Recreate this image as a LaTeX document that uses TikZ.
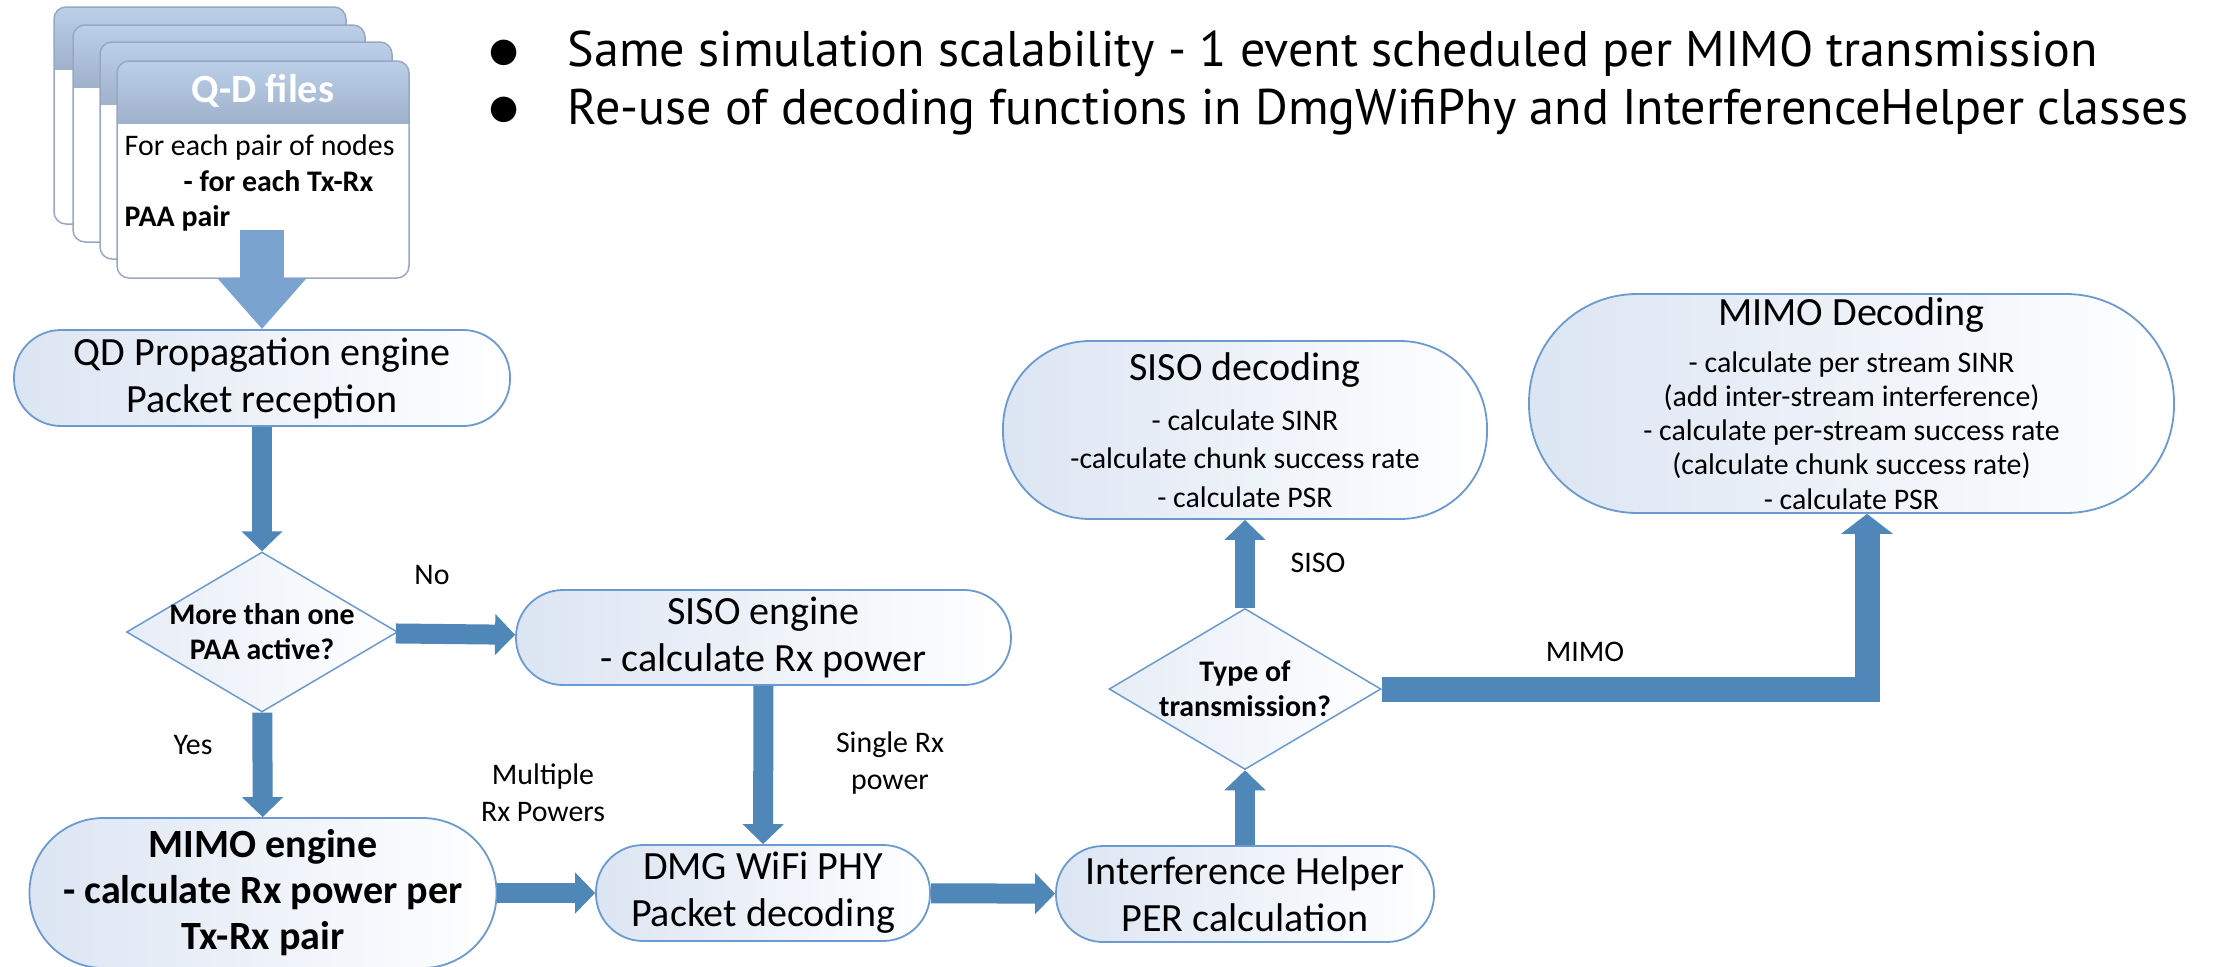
\documentclass[tikz,border=0pt]{standalone}
\usepackage{fontspec}
\setmainfont{Carlito}
\newfontfamily\notefont{PT Sans}
\newfontfamily\dotfont{DejaVu Sans}
\usetikzlibrary{arrows.meta,shapes.geometric}
\definecolor{flowblue}{HTML}{4F87B9}
\definecolor{qdblue}{HTML}{7BA3CF}
\definecolor{boxline}{HTML}{6A9AD0}
\definecolor{boxtint}{HTML}{DCE5F3}
\definecolor{cardtop}{HTML}{BCD0E8}
\definecolor{cardbot}{HTML}{9FB1CB}
\definecolor{cardline}{HTML}{98A8C2}
\begin{document}
\begin{tikzpicture}[x=0.1mm, y=-0.1mm,
	proc/.style={rectangle, rounded corners=#1, draw=boxline, line width=0.18mm, left color=boxtint, right color=white, align=center, inner sep=0pt, font=\fontsize{11.4}{13.4}\selectfont},
	proc/.default=4.7mm,
	decide/.style={diamond, draw=boxline, line width=0.15mm, left color=boxtint!70, right color=white, inner sep=0pt},
	dtext/.style={align=center, font=\bfseries\fontsize{8.5}{10}\selectfont},
	flow/.style={draw=flowblue, line width=2mm, -{Triangle[width=4mm, length=2mm]}},
	lbl/.style={align=center, font=\fontsize{8.5}{10.5}\selectfont}]
	\useasboundingbox (0,0) rectangle (2218,966);
	\fill[white] (0,0) rectangle (2218,966);

	% Q-D file stack
	\foreach \cx/\cy in {54/7, 73/25, 100/42, 117/61} {
		\begin{scope}
			\clip[rounded corners=1.2mm] (\cx,\cy) rectangle ++(292,217);
			\fill[white] (\cx,\cy) rectangle ++(292,217);
			\shade[top color=cardtop, bottom color=cardbot] (\cx,\cy) rectangle ++(292,62);
		\end{scope}
		\draw[cardline, line width=0.15mm, rounded corners=1.2mm] (\cx,\cy) rectangle ++(292,217);
	}
	\node (qdhead) at (263, 91)	[text=white, font=\bfseries\fontsize{11.4}{13}\selectfont]	{Q-D files};
	\node (qdtext) at (124, 183)	[anchor=west, align=left, inner sep=0pt, font=\fontsize{8.5}{10.2}\selectfont]	{For each pair of nodes\\\hspace*{5.9mm}\textbf{- for each Tx-Rx}\\\textbf{PAA pair}};

	\node (notes) at (489, 83)	[anchor=west, align=left, inner sep=0pt, font=\notefont\fontsize{14.25}{16.3}\selectfont]	{\makebox[7.8mm][l]{\raisebox{1.6pt}{\dotfont\fontsize{9.5}{9.5}\selectfont ●}}Same simulation scalability - 1 event scheduled per MIMO transmission\\\makebox[7.8mm][l]{\raisebox{1.6pt}{\dotfont\fontsize{9.5}{9.5}\selectfont ●}}Re-use of decoding functions in DmgWifiPhy and InterferenceHelper classes};

	\node (prop) at (262, 378)	[proc, minimum width=49.6mm, minimum height=9.6mm]	{QD Propagation engine\\Packet reception};
	\node (d1) at (262, 632)	[decide, minimum width=27.1mm, minimum height=16mm, label={[dtext]center:More than one\\PAA active?}]	{};
	\node (sisoeng) at (763.5, 637.5)	[proc, minimum width=49.5mm, minimum height=9.5mm]	{SISO engine\\- calculate Rx power};
	\node (mimoeng) at (263, 893)	[proc=7.4mm, minimum width=46.7mm, minimum height=15mm, font=\bfseries\fontsize{11.4}{13.1}\selectfont]	{MIMO engine\\- calculate Rx power per\\Tx-Rx pair};
	\node (dmg) at (763, 893)	[proc, minimum width=33.4mm, minimum height=9.6mm]	{DMG WiFi PHY\\Packet decoding};
	\node (interf) at (1245, 894)	[proc, minimum width=37.8mm, minimum height=9.6mm]	{Interference Helper\\PER calculation};
	\node (d2) at (1245, 689)	[decide, minimum width=27.2mm, minimum height=16.1mm, label={[dtext]center:Type of\\transmission?}]	{};
	\node (sisodec) at (1245, 430)	[proc=8.7mm, minimum width=48.4mm, minimum height=17.8mm, font=\fontsize{8.5}{11}\selectfont]	{{\fontsize{11.4}{13.4}\selectfont SISO decoding}\\[3.2pt]- calculate SINR\\-calculate chunk success rate\\- calculate PSR};
	\node (mimodec) at (1851.5, 403.5)	[proc=10.8mm, minimum width=64.5mm, minimum height=21.9mm, font=\fontsize{8.5}{9.7}\selectfont]	{{\fontsize{11.4}{13.4}\selectfont MIMO Decoding}\\[3.7pt]- calculate per stream SINR\\(add inter-stream interference)\\- calculate per-stream success rate\\(calculate chunk success rate)\\- calculate PSR};

	\node (lno) at (432, 575)	[lbl]	{No};
	\node (lyes) at (193, 745)	[lbl]	{Yes};
	\node (lmulti) at (543, 793)	[lbl]	{Multiple\\Rx Powers};
	\node (lsingle) at (890, 763)	[lbl]	{Single Rx\\power};
	\node (lsiso) at (1318, 563)	[lbl]	{SISO};
	\node (lmimo) at (1585, 652)	[lbl]	{MIMO};

	\coordinate (qdtail) at (262, 230);
	\draw[draw=qdblue, line width=4.4mm, -{Triangle[width=8.6mm, length=5.1mm]}] (qdtail) -- (prop);
	\draw[flow] (prop) -- (d1);
	\draw[flow] (d1) -- (sisoeng);
	\draw[flow] (d1) -- (mimoeng);
	\draw[flow] (sisoeng) -- (dmg);
	\draw[flow] (mimoeng) -- (dmg);
	\draw[flow] (dmg) -- (interf);
	\draw[flow] (interf) -- (d2);
	\draw[flow] (d2) -- (sisodec);
	\draw[flow, line width=2.5mm, -{Triangle[width=5.1mm, length=2mm]}] (d2.east) -| ([xshift=1.55mm]mimodec.south);
\end{tikzpicture}
\end{document}
